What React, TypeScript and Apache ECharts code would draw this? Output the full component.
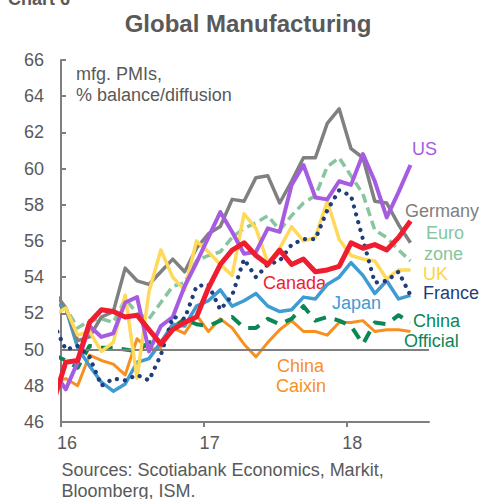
import React, { useEffect, useRef } from 'react';
import * as echarts from 'echarts';

// Monthly observations (Dec 2015 is clipped at the left edge of the axis)
const months = [
  '2015-12',
  '2016-01', '2016-02', '2016-03', '2016-04', '2016-05', '2016-06',
  '2016-07', '2016-08', '2016-09', '2016-10', '2016-11', '2016-12',
  '2017-01', '2017-02', '2017-03', '2017-04', '2017-05', '2017-06',
  '2017-07', '2017-08', '2017-09', '2017-10', '2017-11', '2017-12',
  '2018-01', '2018-02', '2018-03', '2018-04', '2018-05', '2018-06',
];

const us = [48.8, 47.8, 49.3, 51.3, 50.7, 50.9, 52.6, 52.9, 49.9, 51.3, 51.8, 53.5, 54.8, 56.2, 57.6, 56.5, 55.3, 55.4, 56.7, 56.5, 59.1, 60.2, 58.4, 58.3, 59.3, 59.1, 60.8, 59.3, 57.3, 58.7, 60.2];
const germany = [53.2, 52.3, 50.5, 50.7, 51.8, 52.1, 54.5, 53.8, 53.6, 54.3, 55.0, 54.3, 55.6, 56.4, 56.8, 58.3, 58.2, 59.5, 59.6, 58.1, 59.3, 60.6, 60.6, 62.5, 63.3, 61.1, 60.6, 58.2, 58.1, 56.9, 55.9];
const euroZone = [53.2, 52.3, 51.2, 51.6, 51.7, 51.5, 52.8, 52.0, 51.7, 52.6, 53.5, 53.7, 54.9, 55.2, 55.4, 56.2, 56.7, 57.0, 57.4, 56.6, 57.4, 58.1, 58.5, 60.1, 60.6, 59.6, 58.6, 56.6, 56.2, 55.5, 54.9];
const uk = [51.9, 52.3, 50.8, 51.0, 49.9, 50.4, 53.0, 48.4, 53.2, 55.5, 54.0, 53.3, 56.0, 55.4, 54.7, 54.1, 57.5, 56.7, 54.8, 55.6, 56.8, 56.0, 56.2, 58.2, 56.1, 55.2, 55.0, 54.9, 53.9, 54.4, 54.4];
const france = [51.4, 50.0, 50.2, 49.6, 48.0, 48.4, 48.3, 48.6, 48.3, 49.7, 51.8, 51.7, 53.5, 53.6, 52.2, 53.0, 55.0, 54.0, 54.7, 54.9, 55.8, 56.1, 56.1, 57.7, 58.8, 58.5, 56.1, 53.7, 53.8, 54.3, 53.0];
const canada = [47.2, 49.3, 49.4, 51.5, 52.2, 52.1, 51.8, 51.9, 51.1, 50.3, 51.1, 51.5, 51.8, 53.4, 54.7, 55.5, 55.9, 55.2, 54.7, 55.5, 54.7, 55.0, 54.3, 54.4, 54.6, 55.9, 55.6, 55.8, 55.5, 56.2, 57.1];
const japan = [52.6, 52.3, 50.1, 49.1, 48.2, 47.7, 48.1, 49.3, 49.5, 50.4, 51.4, 51.3, 52.4, 52.7, 53.3, 52.4, 52.7, 53.1, 52.4, 52.1, 52.2, 52.9, 52.8, 53.6, 54.0, 54.8, 54.1, 53.1, 53.8, 52.8, 53.0];
const chinaOfficial = [49.7, 49.4, 49.0, 50.2, 50.1, 50.1, 50.0, 49.9, 50.4, 50.4, 51.2, 51.7, 51.4, 51.3, 51.6, 51.8, 51.2, 51.2, 51.7, 51.4, 51.7, 52.4, 51.6, 51.8, 51.6, 51.3, 50.3, 51.5, 51.4, 51.9, 51.5];
const chinaCaixin = [48.2, 48.4, 48.0, 49.7, 49.4, 49.2, 48.6, 50.6, 50.0, 50.1, 51.2, 50.9, 51.9, 51.0, 51.7, 51.2, 50.3, 49.6, 50.4, 51.1, 51.6, 51.0, 51.0, 50.8, 51.5, 51.5, 51.6, 51.0, 51.1, 51.1, 51.0];

const xTickYears = [2016, 2017, 2018];
const yMin = 46;
const yMax = 66;
const yStep = 2;
const referenceLevel = 50;

const FONT = '"Liberation Sans", Arial, sans-serif';
const TEXT_GRAY = '#595959';
const AXIS_GRAY = '#7f7f7f';

// observation placed within its month on a continuous year axis
const toX = (m: string) => {
  const [y, mo] = m.split('-').map(Number);
  return y + (mo - 1 + 0.4) / 12;
};

const seriesDefs: any[] = [
  { name: 'China Caixin', values: chinaCaixin, color: '#F8901F', width: 3, type: 'solid' },
  { name: 'China Official', values: chinaOfficial, color: '#0B8756', width: 4, type: [12, 9] },
  { name: 'Japan', values: japan, color: '#3E9BD3', width: 3.5, type: 'solid' },
  { name: 'Euro zone', values: euroZone, color: '#86C59E', width: 3.5, type: [9, 5] },
  { name: 'Germany', values: germany, color: '#808080', width: 3.5, type: 'solid' },
  { name: 'UK', values: uk, color: '#FFD95A', width: 3.5, type: 'solid' },
  { name: 'US', values: us, color: '#A65CE0', width: 4, type: 'solid' },
  { name: 'France', values: france, color: '#1F3D7A', width: 4.2, type: [0.1, 8], cap: 'round' },
  { name: 'Canada', values: canada, color: '#EE1D2F', width: 5, type: 'solid' },
];

const labelDefs = [
  { text: 'US', x: 412, y: 149, color: '#A65CE0' },
  { text: 'Germany', x: 405, y: 211, color: '#808080' },
  { text: 'Euro', x: 426, y: 233, color: '#86C59E' },
  { text: 'zone', x: 424, y: 254, color: '#86C59E' },
  { text: 'UK', x: 423, y: 274, color: '#FFD43B' },
  { text: 'France', x: 423, y: 293, color: '#1F3D7A' },
  { text: 'Japan', x: 332, y: 303, color: '#3E9BD3' },
  { text: 'China', x: 413, y: 321, color: '#0B8756' },
  { text: 'Official', x: 404, y: 341, color: '#0B8756' },
  { text: 'Canada', x: 263, y: 283, color: '#EE1D2F' },
  { text: 'China', x: 277, y: 366, color: '#F8901F' },
  { text: 'Caixin', x: 276, y: 386, color: '#F8901F' },
];

const textEl = (text: string, x: number, y: number, fill: string, font: string, align = 'left') => ({
  type: 'text',
  x,
  y,
  silent: true,
  style: { text, fill, font, align, verticalAlign: 'middle' },
});

function buildOption(): any {
  const series = seriesDefs.map((s, idx) => ({
    name: s.name,
    type: 'line',
    showSymbol: false,
    symbol: 'none',
    clip: true,
    z: 2 + idx,
    data: months.map((m, i) => [toX(m), s.values[i]]),
    lineStyle: {
      color: s.color,
      width: s.width,
      type: s.type,
      cap: s.cap || 'butt',
      join: 'round',
    },
    ...(idx === 0
      ? {
          markLine: {
            silent: true,
            symbol: 'none',
            label: { show: false },
            lineStyle: { color: AXIS_GRAY, width: 2, type: 'solid' },
            data: [{ yAxis: referenceLevel }],
          },
        }
      : {}),
  }));

  const graphic: any[] = [
    textEl('Chart 6', 8, -1.5, TEXT_GRAY, `bold 18px ${FONT}`),
    textEl('Global Manufacturing', 248, 23, TEXT_GRAY, `bold 24px ${FONT}`, 'center'),
    textEl('mfg. PMIs,', 76, 74, TEXT_GRAY, `18px ${FONT}`),
    textEl('% balance/diffusion', 76, 95, TEXT_GRAY, `18px ${FONT}`),
    textEl('Sources: Scotiabank Economics, Markit,', 61.5, 469.5, TEXT_GRAY, `18px ${FONT}`),
    textEl('Bloomberg, ISM.', 61.5, 490.5, TEXT_GRAY, `18px ${FONT}`),
    ...labelDefs.map((l) => textEl(l.text, l.x, l.y, l.color, `18px ${FONT}`)),
  ];

  return {
    animation: false,
    backgroundColor: '#ffffff',
    grid: { left: 61, right: 66, top: 60, bottom: 77, containLabel: false },
    xAxis: {
      type: 'value',
      min: 2016,
      max: 2018.58,
      interval: 1,
      axisLine: { show: true, onZero: false, lineStyle: { color: AXIS_GRAY, width: 2 } },
      axisTick: {
        show: true,
        inside: false,
        length: 5,
        customValues: xTickYears,
        lineStyle: { color: AXIS_GRAY, width: 2 },
      },
      axisLabel: {
        show: true,
        customValues: xTickYears,
        formatter: (v: number) => String(Math.round(v) % 100),
        color: TEXT_GRAY,
        fontSize: 18,
        fontFamily: FONT,
        margin: 12,
        padding: [0, 0, 0, 12],
      },
      splitLine: { show: false },
    },
    yAxis: {
      type: 'value',
      min: yMin,
      max: yMax,
      interval: yStep,
      axisLine: { show: true, lineStyle: { color: AXIS_GRAY, width: 2 } },
      axisTick: { show: true, inside: true, length: 5, lineStyle: { color: AXIS_GRAY, width: 2 } },
      axisLabel: { color: TEXT_GRAY, fontSize: 18, fontFamily: FONT, margin: 17 },
      splitLine: { show: false },
    },
    series,
    graphic,
  };
}

export default function App() {
  const ref = useRef<HTMLDivElement>(null);
  useEffect(() => {
    if (!ref.current) return;
    const chart = echarts.init(ref.current, null, { renderer: 'svg' });
    chart.setOption(buildOption());
    return () => chart.dispose();
  }, []);
  return (
    <div
      ref={ref}
      style={{ position: 'fixed', left: 0, top: 0, width: 495, height: 499, background: '#ffffff' }}
    />
  );
}
